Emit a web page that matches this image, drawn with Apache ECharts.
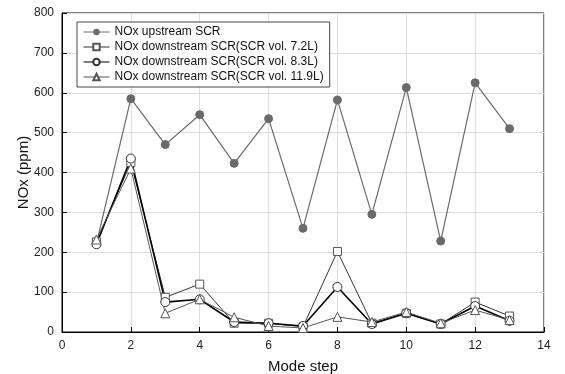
<!DOCTYPE html>
<html><head><meta charset="utf-8">
<script src="https://cdn.jsdelivr.net/npm/echarts@6/dist/echarts.min.js"></script>
<style>html,body{margin:0;padding:0;background:#fff}#c{width:565px;height:374px}</style>
</head><body><div id="c"></div>
<script>
const steps = [1,2,3,4,5,6,7,8,9,10,11,12,13];
const upstream = [222,585,470,545,423,535,260,582,295,613,228,625,510];
const down72 = [226,425,87,120,22,22,13,202,22,47,20,75,40];
const down83 = [220,435,75,82,25,22,15,113,20,47,20,65,28];
const down119 = [232,410,47,82,37,15,10,38,25,50,22,55,30];
const seriesNames = ['NOx upstream SCR','NOx downstream SCR(SCR vol. 7.2L)','NOx downstream SCR(SCR vol. 8.3L)','NOx downstream SCR(SCR vol. 11.9L)'];

const pair = arr => steps.map((s,i)=>[s,arr[i]]);
const chart = echarts.init(document.getElementById('c'));
const font = 'Liberation Sans, Arial, sans-serif';
chart.setOption({
  animation:false,
  textStyle:{fontFamily:font},
  grid:{left:62,right:21,top:13,bottom:42,show:true,borderColor:'#000',borderWidth:1,outerBoundsMode:'none',containLabel:false},
  legend:{
    left:77, top:22, orient:'vertical', itemGap:3, itemWidth:26, itemHeight:8,
    backgroundColor:'#fff', borderColor:'#444', borderWidth:1, padding:[4,6,4,6],
    textStyle:{fontSize:12, color:'#111', fontFamily:font},
    lineStyle:{width:1},
    data:seriesNames
  },
  xAxis:{
    type:'value', min:0, max:14, interval:2,
    name:'Mode step', nameLocation:'middle', nameGap:27,
    nameTextStyle:{fontSize:15,color:'#111'},
    axisLine:{lineStyle:{color:'#000',width:1}},
    axisTick:{inside:true,length:5,lineStyle:{color:'#000'}},
    axisLabel:{fontSize:12,color:'#222',margin:8},
    splitLine:{show:true,lineStyle:{color:'#ddd',width:1}}
  },
  yAxis:{
    type:'value', min:0, max:800, interval:100,
    name:'NOx (ppm)', nameLocation:'middle', nameGap:31, nameMoveOverlap:false,
    nameTextStyle:{fontSize:15,color:'#111'},
    axisLine:{show:true,lineStyle:{color:'#000',width:1}},
    axisTick:{show:true,inside:true,length:5,lineStyle:{color:'#000'}},
    axisLabel:{fontSize:12,color:'#222',margin:8},
    splitLine:{show:true,lineStyle:{color:'#ddd',width:1}}
  },
  series:[
    {name:seriesNames[0],type:'line',data:pair(upstream),symbol:'circle',symbolSize:8,
     lineStyle:{color:'#6a6a6a',width:1.2},itemStyle:{color:'#6a6a6a',borderColor:'#6a6a6a'}},
    {name:seriesNames[1],type:'line',data:pair(down72),symbol:'rect',symbolSize:8,
     lineStyle:{color:'#333',width:1},itemStyle:{color:'#fff',borderColor:'#555',borderWidth:1}},
    {name:seriesNames[2],type:'line',data:pair(down83),symbol:'circle',symbolSize:9,
     lineStyle:{color:'#000',width:1.6},itemStyle:{color:'#fff',borderColor:'#333',borderWidth:1}},
    {name:seriesNames[3],type:'line',data:pair(down119),symbol:'triangle',symbolSize:9,
     lineStyle:{color:'#555',width:1},itemStyle:{color:'#fff',borderColor:'#555',borderWidth:1}}
  ]
});
</script></body></html>
